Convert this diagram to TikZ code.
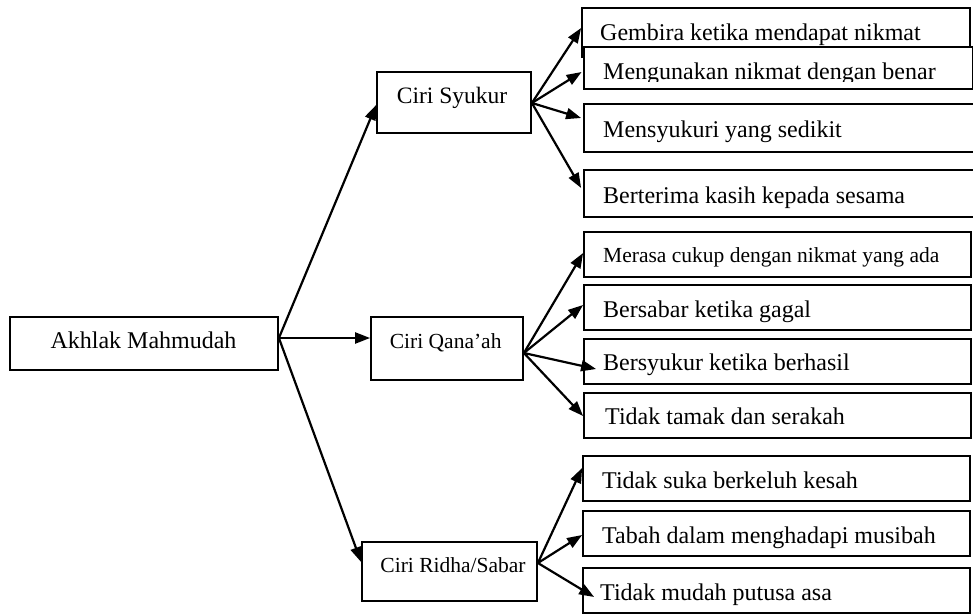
\documentclass[tikz,border=0pt]{standalone}
\usepackage{fontspec}
\setmainfont{Liberation Serif}
\usetikzlibrary{arrows.meta,calc}
\begin{document}
\begin{tikzpicture}[x=1pt,y=-1pt,
  box/.style={draw, line width=1.8pt, fill=white, rectangle, inner sep=0pt},
  lbl/.style={inner sep=0pt, font=\fontsize{24}{28}\selectfont},
  midlbl/.style={inner sep=0pt, font=\fontsize{23.5}{28}\selectfont},
  smalllbl/.style={inner sep=0pt, font=\fontsize{21.5}{26}\selectfont},
  conn/.style={line width=2.2pt, -{Triangle[length=15pt,width=11pt]}}]
\useasboundingbox (0,0) rectangle (973,615);
\clip (0,0) rectangle (973,615);
% left and middle boxes
\node[box, minimum width=268pt, minimum height=53pt] (akhlak) at (144,343.5) {};
\node[box, minimum width=154pt, minimum height=61pt] (syukur) at (454,102.5) {};
\node[box, minimum width=152pt, minimum height=63pt] (qanaah) at (447,348.5) {};
\node[box, minimum width=175pt, minimum height=59pt] (ridha) at (449.5,571.5) {};
% right boxes
\node[box, minimum width=388pt, minimum height=49pt] (g1) at (776,32.5) {};
\node[box, minimum width=389pt, minimum height=42pt] (g2) at (778.5,68) {};
\node[box, minimum width=392pt, minimum height=48pt] (g3) at (780,128) {};
\node[box, minimum width=392pt, minimum height=47pt] (g4) at (780,193.5) {};
\node[box, minimum width=387pt, minimum height=45pt] (q1) at (777.5,254.5) {};
\node[box, minimum width=387pt, minimum height=45pt] (q2) at (777.5,307.5) {};
\node[box, minimum width=387pt, minimum height=45pt] (q3) at (777.5,361.5) {};
\node[box, minimum width=387pt, minimum height=45pt] (q4) at (777.5,415.5) {};
\node[box, minimum width=387pt, minimum height=45pt] (r1) at (776.5,478.5) {};
\node[box, minimum width=387pt, minimum height=45pt] (r2) at (776.5,533.5) {};
\node[box, minimum width=387pt, minimum height=45pt] (r3) at (776.5,590.5) {};
% texts
\node[lbl, anchor=base] (akhlak-t) at (143.5,348) {Akhlak Mahmudah};
\node[midlbl, anchor=base] (syukur-t) at (452,103) {Ciri Syukur};
\node[smalllbl, anchor=base] (qanaah-t) at (445.7,348) {Ciri Qana’ah};
\node[smalllbl, anchor=base] (ridha-t) at (453,572) {Ciri Ridha/Sabar};
\node[lbl, anchor=base west] (g1-t) at (600,41) {Gembira ketika mendapat nikmat};
\begin{scope}
\clip (584,47) rectangle (973,82);
\node[lbl, anchor=base west] (g2-t) at (603,80) {Mengunakan nikmat dengan benar};
\end{scope}
\node[lbl, anchor=base west] (g3-t) at (603,137) {Mensyukuri yang sedikit};
\node[lbl, anchor=base west] (g4-t) at (603,203) {Berterima kasih kepada sesama};
\node[smalllbl, anchor=base west] (q1-t) at (603,262) {Merasa cukup dengan nikmat yang ada};
\node[lbl, anchor=base west] (q2-t) at (603,317) {Bersabar ketika gagal};
\node[lbl, anchor=base west] (q3-t) at (603,370) {Bersyukur ketika berhasil};
\node[lbl, anchor=base west] (q4-t) at (605,424) {Tidak tamak dan serakah};
\node[lbl, anchor=base west] (r1-t) at (602,488) {Tidak suka berkeluh kesah};
\node[lbl, anchor=base west] (r2-t) at (602,543) {Tabah dalam menghadapi musibah};
\node[lbl, anchor=base west] (r3-t) at (600,600) {Tidak mudah putusa asa};
% connectors
\coordinate (a0) at ($(akhlak.east)+(0,-5.5)$);
\draw[conn] (a0) -- ($(syukur.west)+(0,2.5)$);
\draw[conn] (a0) -- ($(qanaah.west)+(0,-10.5)$);
\draw[conn] (a0) -- ($(ridha.west)+(0,-9.5)$);
\coordinate (s0) at ($(syukur.east)+(0,0.5)$);
\draw[conn] (s0) -- ($(g1.west)+(0,-4.5)$);
\draw[conn] (s0) -- ($(g2.west)+(-1.5,4)$);
\draw[conn] (s0) -- ($(g3.west)+(-2,-10)$);
\draw[conn] (s0) -- ($(g4.west)+(-2,-5.5)$);
\coordinate (q0) at ($(qanaah.east)+(0,4.5)$);
\draw[conn] (q0) -- ($(q1.west)+(0,-1.5)$);
\draw[conn] (q0) -- ($(q2.west)+(0,-2.5)$);
\draw[conn] (q0) -- ($(q3.west)+(13,7.5)$);
\draw[conn] (q0) -- ($(q4.west)+(0,0.5)$);
\coordinate (r0) at ($(ridha.east)+(0,-8.5)$);
\draw[conn] (r0) -- ($(r1.west)+(0,-10.5)$);
\draw[conn] (r0) -- ($(r2.west)+(0,1.5)$);
\draw[conn] (r0) -- ($(r3.west)+(12,6.5)$);
\end{tikzpicture}
\end{document}
